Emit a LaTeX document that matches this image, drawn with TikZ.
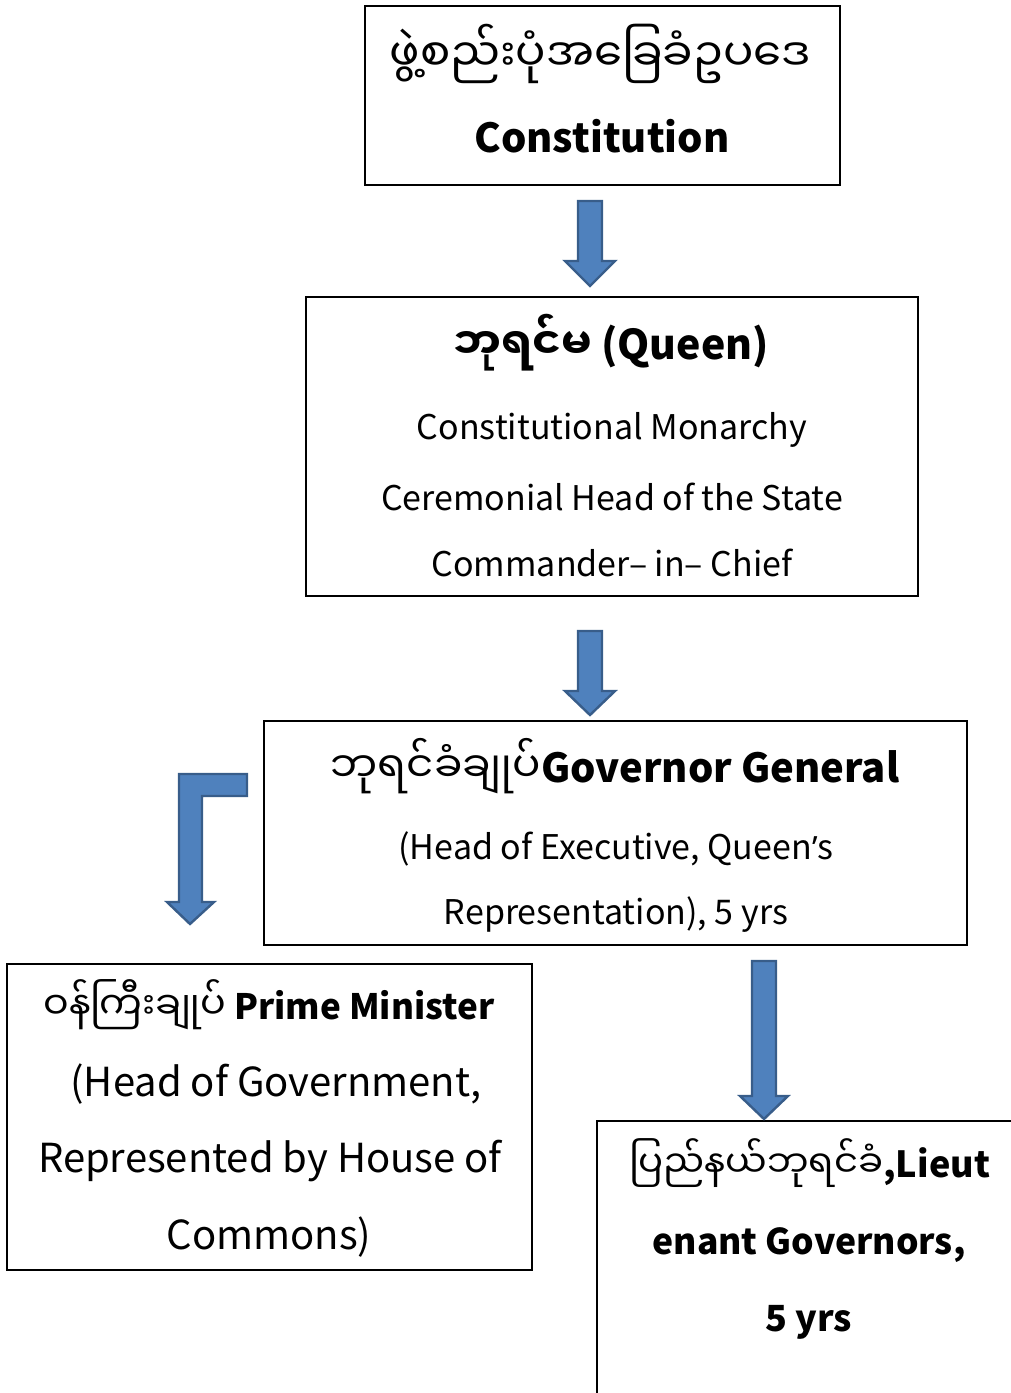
\documentclass[tikz,border=0pt]{standalone}
\usepackage{fontspec}
\setmainfont{Noto Sans CJK SC}
\newfontfamily\mya[Script=Myanmar]{Noto Sans Myanmar UI}
\newfontfamily\nsans{Noto Sans}
\begin{document}
\begin{tikzpicture}[x=1pt,y=-1pt,
  box/.style={draw=black, line width=1.2pt, rectangle, inner sep=0pt},
  txt/.style={anchor=base, inner sep=0pt},
  barrow/.style={fill=arrowfill, draw=arrowline, line width=2.4pt, line join=miter},
]
\definecolor{arrowfill}{HTML}{4F81BD}
\definecolor{arrowline}{HTML}{385D8A}
\useasboundingbox (0,0) rectangle (1011,1393);
\clip (0,0) rectangle (1011,1393);
% boxes
\node[box, minimum width=475pt, minimum height=179pt] (b1) at (602.5,95.5) {};
\node[box, minimum width=612pt, minimum height=299pt] (b2) at (612,446.5) {};
\node[box, minimum width=703pt, minimum height=224pt] (b3) at (615.5,833) {};
\node[box, minimum width=525pt, minimum height=306pt] (b4) at (269.5,1117) {};
\node[box, minimum width=430pt, minimum height=290pt] (b5) at (812,1266) {};
% box 1 text
\node[txt, font=\fontsize{45}{52}\selectfont] (t11) at (600,71) {\mya ဖွဲ့စည်းပုံအခြေခံဥပဒေ};
\node[txt, font=\fontsize{40}{48}\selectfont\bfseries] (t12) at (602,152) {Constitution};
% box 2 text
\node[txt, font=\fontsize{41}{48}\selectfont\bfseries] (t21) at (611,359) {{\mya\fontsize{43}{48}\selectfont ဘုရင်မ} (Queen)};
\node[txt, font=\fontsize{34}{40}\selectfont] (t22) at (612,439) {Constitutional Monarchy};
\node[txt, font=\fontsize{34}{40}\selectfont] (t23) at (612,510) {Ceremonial Head of the State};
\node[txt, font=\fontsize{34}{40}\selectfont] (t24) at (612,576) {Commander– in– Chief};
% box 3 text
\node[txt, font=\fontsize{40}{48}\selectfont\bfseries] (t31) at (615,782) {{\mya\mdseries\fontsize{42}{48}\selectfont ဘုရင်ခံချုပ်}Governor General};
\node[txt, font=\fontsize{34}{40}\selectfont] (t32) at (616,859) {(Head of Executive, Queen{\nsans\fontsize{32}{40}\selectfont ’}s};
\node[txt, font=\fontsize{34}{40}\selectfont] (t33) at (616,924) {Representation), 5 yrs};
% box 4 text
\node[txt, font=\fontsize{35}{48}\selectfont\bfseries] (t41) at (269,1019) {{\mya\mdseries\fontsize{38}{48}\selectfont ဝန်ကြီးချုပ်} Prime Minister};
\node[txt, font=\fontsize{40}{48}\selectfont] (t42) at (276,1096) {(Head of Government,};
\node[txt, font=\fontsize{40}{48}\selectfont] (t43) at (270,1172) {Represented by House of};
\node[txt, font=\fontsize{40}{48}\selectfont] (t44) at (269,1249) {Commons)};
% box 5 text
\node[txt, font=\fontsize{36}{48}\selectfont\bfseries] (t51) at (810,1177) {{\mya\mdseries\fontsize{37}{48}\selectfont ပြည်နယ်ဘုရင်ခံ},Lieut};
\node[txt, font=\fontsize{35.5}{48}\selectfont\bfseries] (t52) at (809,1254) {enant Governors,};
\node[txt, font=\fontsize{36}{48}\selectfont\bfseries] (t53) at (809,1331) {5 yrs};
% block arrows
\draw[barrow] (578,201) -- (602,201) -- (602,261) -- (615,261) -- (590,286) -- (565,261) -- (578,261) -- cycle;
\draw[barrow] (578,631) -- (602,631) -- (602,691) -- (615,691) -- (590,715) -- (565,691) -- (578,691) -- cycle;
\draw[barrow] (752,961) -- (776,961) -- (776,1096) -- (788,1096) -- (764,1119) -- (740,1096) -- (752,1096) -- cycle;
\draw[barrow] (247,774) -- (179,774) -- (179,902) -- (167,902) -- (190,924) -- (214,902) -- (202,902) -- (202,796) -- (247,796) -- cycle;
\end{tikzpicture}
\end{document}
